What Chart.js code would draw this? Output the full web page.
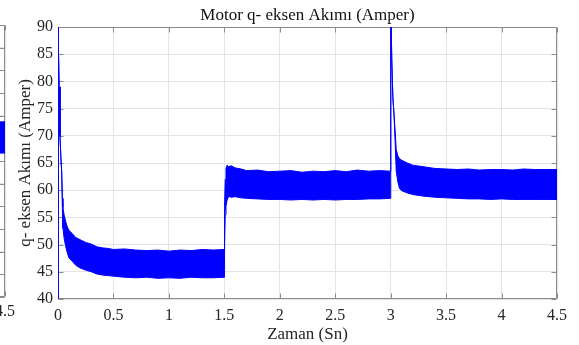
<!DOCTYPE html>
<html>
<head>
<meta charset="utf-8">
<script src="https://cdn.jsdelivr.net/npm/chart.js@4"></script>
<style>
html, body { margin: 0; padding: 0; background: #fff; overflow: hidden; }
#wrap { position: relative; width: 579px; height: 345px; overflow: hidden; }
#side { position: absolute; left: -285px; top: 0; }
#main { position: absolute; left: 0; top: 0; }
</style>
</head>
<body>
<div id="wrap">
<canvas id="side" width="300" height="345"></canvas>
<canvas id="main" width="579" height="345"></canvas>
</div>
<script>
// q-axis current envelope (upper / lower edge of the ripple band)
const time = [0, 0.001, 0.004, 0.01, 0.018, 0.026, 0.033, 0.04, 0.045, 0.055, 0.07, 0.085, 0.1, 0.13, 0.16, 0.2,
    0.25, 0.3, 0.35, 0.4, 0.45, 0.5, 0.6, 0.7, 0.8, 0.9, 1.0, 1.1, 1.2, 1.3, 1.4, 1.498, 1.5, 1.504, 1.508, 1.515,
    1.525, 1.54, 1.56, 1.6, 1.65, 1.7, 1.8, 1.9, 2.0, 2.1, 2.2, 2.3, 2.4, 2.5, 2.6, 2.7, 2.8, 2.9, 2.998, 3.0,
    3.002, 3.01, 3.02, 3.03, 3.04, 3.05, 3.065, 3.08, 3.1, 3.15, 3.2, 3.3, 3.4, 3.5, 3.6, 3.7, 3.8, 3.9, 4.0,
    4.1, 4.2, 4.3, 4.4, 4.5];

const upper = [38, 95, 88, 79, 70, 66, 63.5, 58.5, 56.8, 55.5, 54.2, 53.2, 52.6, 52.0, 51.3, 50.9,
    50.4, 50.1, 49.6, 49.4, 49.3, 49.1, 49.2, 49.0, 48.9, 49.0, 48.8, 49.0, 48.9, 49.1, 49.0, 49.1, 48.8, 57, 62, 64.0,
    64.6, 64.3, 64.5, 64.1, 63.9, 63.6, 63.7, 63.4, 63.5, 63.6, 63.3, 63.5, 63.4, 63.6, 63.4, 63.7, 63.5, 63.6, 63.5, 63.5,
    95, 84, 77, 74, 71, 67.5, 66.3, 65.8, 65.5, 65.0, 64.6, 64.3, 64.0, 63.9, 63.8, 63.9, 63.7, 63.8, 63.8,
    63.7, 63.9, 63.8, 63.8, 63.8];

const lower = [38, 95, 88, 79, 70, 66, 63.5, 56, 53, 51.2, 49.6, 48.4, 47.5, 46.9, 46.2, 45.7,
    45.3, 45.0, 44.6, 44.4, 44.3, 44.2, 44.0, 43.9, 44.0, 43.8, 43.9, 43.8, 44.0, 43.9, 43.9, 44.0, 44.0, 50, 55.5, 57.0,
    58.2, 58.9, 58.7, 58.8, 58.6, 58.5, 58.4, 58.3, 58.3, 58.2, 58.3, 58.2, 58.3, 58.2, 58.3, 58.3, 58.4, 58.4, 58.5, 58.5,
    95, 84, 77, 74, 69, 63.5, 61.5, 60.3, 59.9, 59.5, 59.2, 58.9, 58.7, 58.6, 58.5, 58.4, 58.4, 58.3, 58.4,
    58.3, 58.3, 58.3, 58.3, 58.3];

const xTicks = [0, 0.5, 1, 1.5, 2, 2.5, 3, 3.5, 4, 4.5];
const yTicks = [40, 45, 50, 55, 60, 65, 70, 75, 80, 85, 90];

// neighbouring subplot, only its right edge is in the picture
const sideTime = [4.0, 4.5];
const sideUpper = [77.1, 77.3];
const sideLower = [63.4, 63.5];
const sideYTicks = [0, 10, 20, 30, 40, 50, 60, 70, 80, 90, 100, 110, 120];

const BLUE = "#0000ff";
const SERIF = "'Liberation Serif', 'Times New Roman', serif";

const pts = (xs, ys) => xs.map((v, i) => ({ x: v, y: ys[i] }));

// matlab style box with inward ticks on all four sides
const boxPlugin = {
    id: "box",
    beforeDatasetsDraw(chart) {
        const { ctx, chartArea: a, scales: { x, y } } = chart;
        const L = Math.round(a.left) + 0.5, R = Math.round(a.right) - 0.5;
        const T = Math.round(a.top) + 0.5, B = Math.round(a.bottom) - 0.5;
        ctx.save();
        ctx.strokeStyle = "#8c8c8c";
        ctx.lineWidth = 1;
        ctx.beginPath();
        x.ticks.forEach(t => {
            const px = Math.round(x.getPixelForValue(t.value)) + 0.5;
            ctx.moveTo(px, B); ctx.lineTo(px, B - 5);
            ctx.moveTo(px, T); ctx.lineTo(px, T + 5);
        });
        y.ticks.forEach(t => {
            const py = Math.round(y.getPixelForValue(t.value)) + 0.5;
            ctx.moveTo(L, py); ctx.lineTo(L + 5, py);
            ctx.moveTo(R, py); ctx.lineTo(R - 5, py);
        });
        ctx.rect(L, T, R - L, B - T);
        ctx.stroke();
        ctx.restore();
    }
};

const noPad = s => { s.paddingLeft = 0; s.paddingRight = 0; s.paddingTop = 0; s.paddingBottom = 0; };

new Chart(document.getElementById("main"), {
    type: "line",
    data: {
        datasets: [
            {
                data: pts(time, upper),
                borderColor: BLUE,
                backgroundColor: BLUE,
                borderWidth: 1,
                pointRadius: 0,
                fill: "+1"
            },
            {
                data: pts(time, lower),
                borderColor: BLUE,
                borderWidth: 1,
                pointRadius: 0,
                fill: false
            }
        ]
    },
    options: {
        responsive: false,
        animation: false,
        devicePixelRatio: 1,
        layout: { padding: { left: 0, right: 22, top: 0, bottom: 0 } },
        plugins: {
            legend: { display: false },
            tooltip: { enabled: false },
            title: {
                display: true,
                fullSize: false,
                text: "Motor q- eksen Akımı (Amper)",
                color: "#111",
                font: { family: SERIF, size: 17, weight: "normal" },
                padding: { top: 5, bottom: 1.6 }
            }
        },
        scales: {
            x: {
                type: "linear",
                min: 0,
                max: 4.5,
                afterBuildTicks: s => { s.ticks = xTicks.map(v => ({ value: v })); },
                afterFit: s => { s.height = 46; noPad(s); },
                ticks: {
                    color: "#262626",
                    font: { family: SERIF, size: 16 },
                    padding: 7,
                    maxRotation: 0,
                    callback: v => String(v)
                },
                grid: { color: "#e4e4e4", drawTicks: false },
                border: { display: false },
                title: {
                    display: true,
                    text: "Zaman (Sn)",
                    color: "#262626",
                    font: { family: SERIF, size: 17 },
                    padding: { top: 0, bottom: 0 }
                }
            },
            y: {
                min: 40,
                max: 90,
                afterBuildTicks: s => { s.ticks = yTicks.map(v => ({ value: v })); },
                afterFit: s => { s.width = 58; noPad(s); },
                ticks: {
                    color: "#262626",
                    font: { family: SERIF, size: 16 },
                    padding: 5,
                    callback: v => String(v)
                },
                grid: { color: "#e4e4e4", drawTicks: false },
                border: { display: false },
                title: {
                    display: true,
                    text: "q- eksen Akımı (Amper)",
                    color: "#262626",
                    font: { family: SERIF, size: 17 },
                    padding: { top: 15, bottom: 0 }
                }
            }
        }
    },
    plugins: [boxPlugin]
});

new Chart(document.getElementById("side"), {
    type: "line",
    data: {
        datasets: [
            {
                data: pts(sideTime, sideUpper),
                borderColor: BLUE,
                backgroundColor: BLUE,
                borderWidth: 1,
                pointRadius: 0,
                fill: "+1"
            },
            {
                data: pts(sideTime, sideLower),
                borderColor: BLUE,
                borderWidth: 1,
                pointRadius: 0,
                fill: false
            }
        ]
    },
    options: {
        responsive: false,
        animation: false,
        devicePixelRatio: 1,
        layout: { padding: { left: 0, right: 10, top: 25, bottom: 0 } },
        plugins: { legend: { display: false }, tooltip: { enabled: false } },
        scales: {
            x: {
                type: "linear",
                min: 0,
                max: 4.5,
                afterBuildTicks: s => { s.ticks = xTicks.map(v => ({ value: v })); },
                afterFit: s => { s.height = 48; noPad(s); },
                ticks: {
                    color: "#262626",
                    font: { family: SERIF, size: 16 },
                    padding: 5,
                    maxRotation: 0,
                    callback: v => String(v)
                },
                grid: { color: "#e4e4e4", drawTicks: false },
                border: { display: false }
            },
            y: {
                min: 0,
                max: 120,
                afterBuildTicks: s => { s.ticks = sideYTicks.map(v => ({ value: v })); },
                afterFit: s => { s.width = 40; noPad(s); },
                ticks: { display: false },
                grid: { color: "#e4e4e4", drawTicks: false },
                border: { display: false }
            }
        }
    },
    plugins: [boxPlugin]
});
</script>
</body>
</html>
